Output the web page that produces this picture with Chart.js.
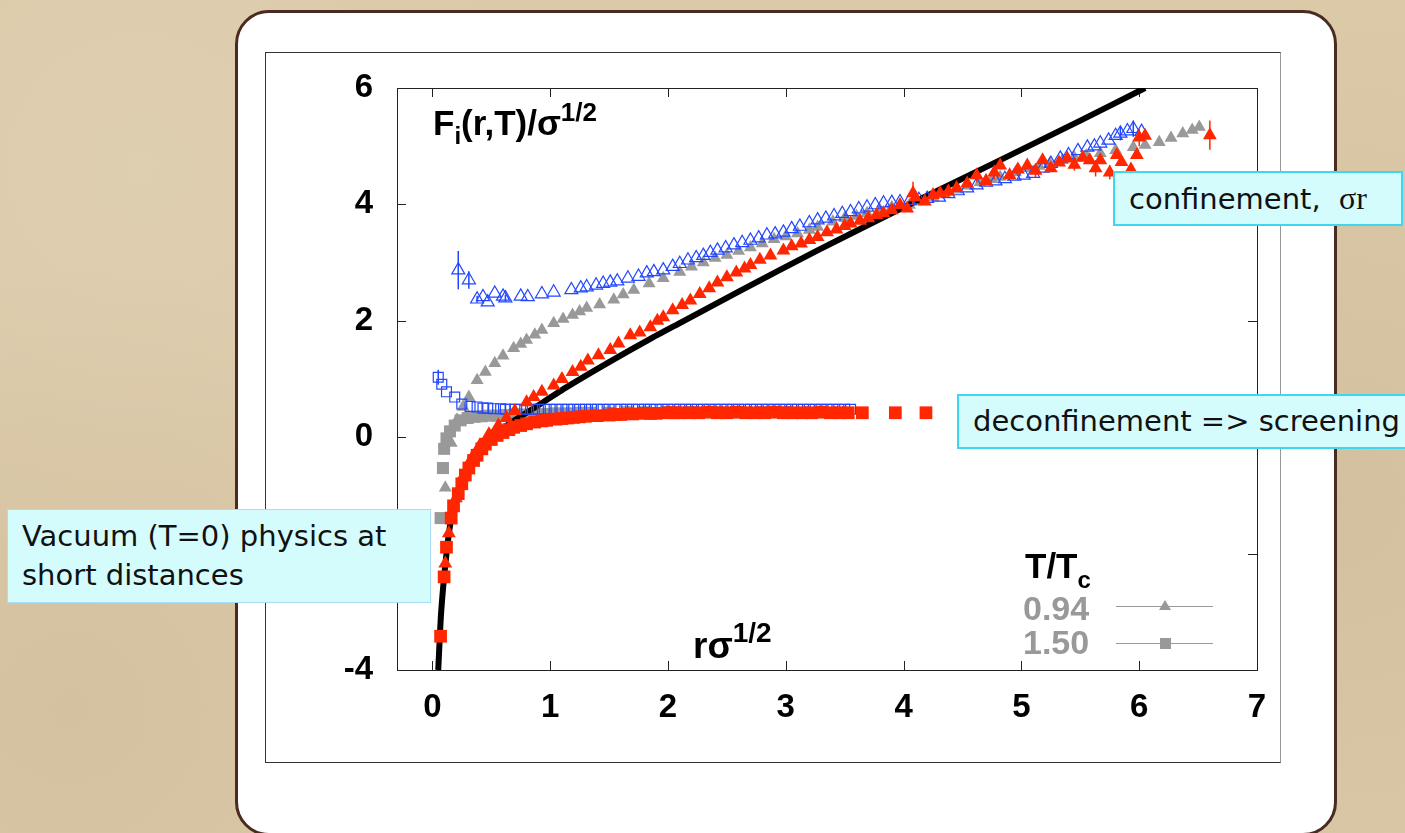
<!DOCTYPE html>
<html>
<head>
<meta charset="utf-8">
<script src="https://cdn.jsdelivr.net/npm/chart.js"></script>
<style>
  html, body { margin: 0; padding: 0; width: 1405px; height: 833px; overflow: hidden; }
  body {
    position: relative;
    background:
      radial-gradient(circle at 10% 20%, rgba(255,255,255,0.10), transparent 30%),
      radial-gradient(circle at 95% 60%, rgba(120,90,50,0.08), transparent 35%),
      radial-gradient(circle at 5% 85%, rgba(120,90,50,0.07), transparent 30%),
      #dbc9a8;
    font-family: "Liberation Sans", Arial, sans-serif;
  }
  #panel {
    position: absolute; left: 235px; top: 10px; width: 1102px; height: 826px;
    box-sizing: border-box; background: #fff; border: 3px solid #4a2b22; border-radius: 34px;
  }
  #frame {
    position: absolute; left: 265px; top: 52px; width: 1016px; height: 711px;
    box-sizing: border-box; border: 1px solid #333; border-right-color: #999;
  }
  #chart { position: absolute; left: 0; top: 0; }
  .lbl { position: absolute; font-weight: bold; color: #000; white-space: nowrap; line-height: 1; }
  .lbl .sup { position: relative; }
  .gray { color: #999; }
  .note {
    position: absolute; box-sizing: border-box; background: #d5fcfd;
    border: 2px solid #3fd6ee; font-family: "DejaVu Sans", sans-serif;
    font-size: 29px; line-height: 39px; color: #111; white-space: nowrap;
  }
  .serif { font-family: "Liberation Serif", "DejaVu Serif", serif; font-size: 32px; }
</style>
</head>
<body>
<div id="panel"></div>
<div id="frame"></div>
<canvas id="chart" width="1405" height="833"></canvas>

<div class="lbl" style="left:433px; top:105px; font-size:35px;">F<span style="font-size:24px; position:relative; top:9px;">i</span>(r,T)/σ<span class="sup" style="font-size:26px; top:-14px;">1/2</span></div>
<div class="lbl" style="left:693px; top:627px; font-size:37px;">rσ<span class="sup" style="font-size:28px; top:-16px;">1/2</span></div>
<div class="lbl" style="left:1025px; top:548px; font-size:35px;">T/T<span style="font-size:24px; position:relative; top:10px;">c</span></div>
<div class="lbl gray" style="left:1023px; top:591px; font-size:34px;">0.94</div>
<div class="lbl gray" style="left:1023px; top:625px; font-size:34px;">1.50</div>

<div class="note" style="left:1113px; top:171px; width:290px; height:55px; padding:6px 0 0 14px;">confinement,&nbsp; <span class="serif">σr</span></div>
<div class="note" style="left:957px; top:394px; width:470px; height:55px; padding:6px 0 0 14px;">deconfinement =&gt; screening</div>
<div class="note" style="left:7px; top:509px; width:424px; height:94px; padding:7px 0 0 14px; border:1px solid #a9dcf5;">Vacuum (T=0) physics at<br>short distances</div>

<script>
// axis ticks
const xTicks = [0, 1, 2, 3, 4, 5, 6, 7];
const yTicks = [-4, -2, 0, 2, 4, 6];

// T = 0 potential (thick black curve)
const vacX = [0.05, 0.075, 0.12, 0.16, 0.21, 0.26, 0.31, 0.38, 0.45, 0.55, 0.66, 0.8, 0.9, 1.14, 1.5, 1.85, 2.1, 2.6, 3.27, 4.0, 4.82, 5.5, 6.05];
const vacY = [-4.0, -3.0, -2.0, -1.4, -1.0, -0.72, -0.5, -0.27, -0.08, 0.08, 0.24, 0.42, 0.55, 0.86, 1.29, 1.69, 1.96, 2.5, 3.21, 3.95, 4.76, 5.44, 6.0];

// T/Tc = 0.94, grey filled triangles
const g094X = [0.11, 0.16, 0.21, 0.26, 0.31, 0.38, 0.45, 0.53, 0.6, 0.69, 0.75, 0.8, 0.87, 0.93, 1.03, 1.11, 1.19, 1.25, 1.31, 1.42, 1.54, 1.62, 1.71, 1.84, 1.96, 2.1, 2.2, 2.3, 2.4, 2.5, 2.6, 2.7, 2.8, 2.9, 3.0, 3.1, 3.2, 3.27, 3.4, 3.5, 3.6, 3.69, 3.8, 3.9, 4.05, 4.15, 4.25, 4.35, 4.45, 4.55, 4.65, 4.75, 4.82, 4.95, 5.05, 5.15, 5.24, 5.35, 5.45, 5.55, 5.67, 5.8, 5.95, 6.05, 6.17, 6.27, 6.37, 6.45, 6.51];
const g094Y = [-0.87, -0.1, 0.3, 0.52, 0.69, 0.98, 1.12, 1.27, 1.4, 1.53, 1.6, 1.67, 1.76, 1.84, 1.96, 2.03, 2.1, 2.16, 2.22, 2.28, 2.36, 2.45, 2.53, 2.64, 2.73, 2.84, 2.93, 3.0, 3.08, 3.13, 3.2, 3.26, 3.33, 3.4, 3.45, 3.5, 3.56, 3.61, 3.7, 3.76, 3.8, 3.85, 3.9, 3.95, 3.99, 4.05, 4.12, 4.18, 4.25, 4.32, 4.38, 4.43, 4.47, 4.55, 4.62, 4.66, 4.7, 4.76, 4.8, 4.84, 4.88, 4.93, 4.98, 5.02, 5.07, 5.14, 5.22, 5.28, 5.33];

// T/Tc = 1.50, grey filled squares
const g150X = [0.07, 0.09, 0.1, 0.12, 0.15, 0.19, 0.24, 0.3, 0.36, 0.42, 0.48, 0.55, 0.62, 0.7, 0.78, 0.86, 0.95, 1.05, 1.15, 1.25, 1.35, 1.5, 1.65, 1.8, 2.0, 2.2, 2.4, 2.6, 2.8, 3.0];
const g150Y = [-1.39, -0.53, -0.2, -0.02, 0.1, 0.2, 0.29, 0.33, 0.35, 0.36, 0.37, 0.37, 0.38, 0.39, 0.39, 0.4, 0.4, 0.41, 0.41, 0.42, 0.42, 0.42, 0.43, 0.43, 0.43, 0.43, 0.43, 0.43, 0.43, 0.43];

// blue open triangles (below Tc)
const blueTriX = [0.22, 0.31, 0.38, 0.43, 0.47, 0.53, 0.6, 0.62, 0.75, 0.81, 0.93, 1.03, 1.18, 1.26, 1.31, 1.39, 1.45, 1.51, 1.57, 1.66, 1.75, 1.82, 1.88, 1.96, 2.04, 2.1, 2.17, 2.24, 2.3, 2.36, 2.42, 2.49, 2.56, 2.63, 2.7, 2.77, 2.84, 2.91, 2.98, 3.05, 3.12, 3.2, 3.27, 3.34, 3.41, 3.48, 3.55, 3.62, 3.69, 3.76, 3.83, 3.9, 3.97, 4.05, 4.13, 4.2, 4.3, 4.38, 4.46, 4.54, 4.62, 4.7, 4.78, 4.86, 4.94, 5.02, 5.1, 5.18, 5.25, 5.33, 5.4, 5.48, 5.56, 5.62, 5.67, 5.74, 5.8, 5.84, 5.9, 5.95, 6.02];
const blueTriY = [2.87, 2.7, 2.37, 2.41, 2.32, 2.47, 2.42, 2.39, 2.42, 2.41, 2.46, 2.49, 2.53, 2.56, 2.58, 2.61, 2.64, 2.66, 2.68, 2.73, 2.76, 2.82, 2.84, 2.87, 2.93, 2.98, 3.04, 3.08, 3.12, 3.17, 3.21, 3.25, 3.3, 3.34, 3.38, 3.42, 3.47, 3.49, 3.52, 3.58, 3.62, 3.68, 3.73, 3.76, 3.8, 3.84, 3.87, 3.92, 3.95, 3.99, 4.02, 4.03, 4.04, 4.06, 4.08, 4.1, 4.12, 4.18, 4.23, 4.28, 4.33, 4.38, 4.4, 4.44, 4.48, 4.5, 4.53, 4.62, 4.7, 4.79, 4.85, 4.92, 4.98, 5.0, 5.05, 5.1, 5.18, 5.22, 5.26, 5.3, 5.25];
const blueTriErrX = [0.22, 0.31, 0.38, 0.62, 5.84, 5.95];
const blueTriErr = [0.33, 0.15, 0.06, 0.06, 0.12, 0.14];

// blue open squares (above Tc)
const blueSqX = [0.05, 0.08, 0.12, 0.19, 0.25, 0.32, 0.38, 0.43, 0.47, 0.52, 0.58, 0.62, 0.66, 0.7, 0.75, 0.8, 0.85, 0.9, 0.95, 1.0, 1.05, 1.1, 1.15, 1.2, 1.25, 1.3, 1.35, 1.4, 1.45, 1.5, 1.55, 1.6, 1.65, 1.7, 1.75, 1.8, 1.85, 1.9, 1.95, 2.0, 2.05, 2.1, 2.15, 2.2, 2.25, 2.3, 2.35, 2.4, 2.45, 2.5, 2.55, 2.6, 2.65, 2.7, 2.75, 2.8, 2.85, 2.9, 2.95, 3.0, 3.05, 3.1, 3.15, 3.2, 3.25, 3.3, 3.35, 3.4, 3.45, 3.5, 3.55];
const blueSqY = [1.03, 0.91, 0.78, 0.69, 0.57, 0.53, 0.52, 0.5, 0.5, 0.49, 0.49, 0.48, 0.48, 0.48, 0.48, 0.48, 0.48, 0.48, 0.48, 0.48, 0.48, 0.48, 0.48, 0.48, 0.48, 0.48, 0.48, 0.48, 0.48, 0.48, 0.48, 0.48, 0.48, 0.48, 0.48, 0.48, 0.48, 0.48, 0.48, 0.48, 0.48, 0.48, 0.48, 0.48, 0.48, 0.48, 0.48, 0.48, 0.48, 0.48, 0.48, 0.48, 0.48, 0.48, 0.48, 0.48, 0.48, 0.48, 0.48, 0.48, 0.48, 0.48, 0.48, 0.48, 0.48, 0.48, 0.48, 0.48, 0.48, 0.48, 0.48];
const blueSqErrX = [0.05];
const blueSqErr = [0.13];

// red filled triangles (below Tc)
const redTriX = [0.11, 0.14, 0.2, 0.26, 0.33, 0.4, 0.48, 0.56, 0.63, 0.7, 0.8, 0.86, 0.93, 1.03, 1.1, 1.19, 1.26, 1.32, 1.41, 1.51, 1.58, 1.68, 1.76, 1.85, 1.91, 1.96, 2.04, 2.12, 2.19, 2.27, 2.35, 2.42, 2.5, 2.58, 2.65, 2.7, 2.78, 2.87, 2.98, 3.05, 3.13, 3.2, 3.27, 3.35, 3.43, 3.5, 3.55, 3.63, 3.7, 3.77, 3.83, 3.9, 3.97, 4.03, 4.08, 4.1, 4.18, 4.25, 4.31, 4.38, 4.45, 4.54, 4.62, 4.7, 4.77, 4.82, 4.9, 4.97, 5.05, 5.12, 5.18, 5.25, 5.32, 5.39, 5.45, 5.52, 5.58, 5.63, 5.67, 5.75, 5.81, 5.85, 5.93, 5.98, 6.0, 6.05, 6.6];
const redTriY = [-2.17, -1.65, -1.05, -0.68, -0.38, -0.15, 0.05, 0.2, 0.33, 0.45, 0.6, 0.69, 0.78, 0.89, 1.0, 1.12, 1.21, 1.32, 1.41, 1.5, 1.61, 1.75, 1.8, 1.89, 2.0, 2.06, 2.18, 2.27, 2.35, 2.46, 2.56, 2.66, 2.75, 2.83, 2.9, 2.96, 3.05, 3.12, 3.21, 3.28, 3.33, 3.39, 3.44, 3.52, 3.57, 3.63, 3.67, 3.72, 3.76, 3.82, 3.85, 3.9, 3.99, 3.93, 4.19, 4.12, 4.05, 4.16, 4.19, 4.22, 4.28, 4.36, 4.5, 4.4, 4.55, 4.67, 4.5, 4.6, 4.67, 4.58, 4.76, 4.62, 4.72, 4.79, 4.68, 4.8, 4.76, 4.62, 4.76, 4.55, 4.85, 4.73, 4.6, 4.85, 5.15, 5.18, 5.19];
const redTriErrX = [4.08, 4.38, 4.62, 4.77, 4.97, 5.12, 5.45, 5.63, 5.75, 5.93, 6.0, 6.6];
const redTriErr = [0.2, 0.1, 0.12, 0.12, 0.1, 0.12, 0.1, 0.14, 0.12, 0.1, 0.15, 0.25];

// red filled squares (above Tc)
const redSqX = [0.07, 0.1, 0.12, 0.16, 0.18, 0.22, 0.25, 0.28, 0.31, 0.35, 0.38, 0.42, 0.45, 0.5, 0.55, 0.6, 0.65, 0.69, 0.75, 0.8, 0.87, 0.93, 0.97, 1.05, 1.1, 1.15, 1.2, 1.25, 1.3, 1.4, 1.5, 1.55, 1.6, 1.7, 1.8, 1.85, 1.9, 2.0, 2.05, 2.1, 2.18, 2.26, 2.34, 2.42, 2.5, 2.58, 2.66, 2.74, 2.82, 2.9, 2.98, 3.06, 3.14, 3.22, 3.3, 3.38, 3.46, 3.53, 3.65, 3.93, 4.19];
const redSqY = [-3.42, -2.4, -1.89, -1.39, -1.18, -0.97, -0.8, -0.65, -0.53, -0.4, -0.31, -0.2, -0.12, -0.04, 0.03, 0.08, 0.13, 0.17, 0.2, 0.23, 0.26, 0.28, 0.29, 0.31, 0.32, 0.33, 0.34, 0.35, 0.36, 0.37, 0.38, 0.39, 0.39, 0.4, 0.41, 0.41, 0.41, 0.42, 0.42, 0.42, 0.42, 0.42, 0.43, 0.42, 0.42, 0.43, 0.42, 0.42, 0.42, 0.43, 0.42, 0.42, 0.42, 0.42, 0.43, 0.42, 0.42, 0.42, 0.42, 0.42, 0.42];

const RED = '#ff2600', BLUE = '#2046ff', GREY = '#999999';

const pts = (xs, ys) => xs.map((x, i) => ({ x: x, y: ys[i] }));

// vertical error bars drawn after each dataset
const errorBars = {
  id: 'errorBars',
  afterDatasetDraw(chart, args) {
    const ds = chart.data.datasets[args.index];
    if (!ds.errX) return;
    const { ctx } = chart;
    const y = chart.scales.y;
    ctx.save();
    ctx.strokeStyle = ds.borderColor;
    ctx.lineWidth = 1.5;
    args.meta.data.forEach((pt, i) => {
      const k = ds.errX.indexOf(ds.data[i].x);
      if (k < 0) return;
      const v = ds.data[i].y, e = ds.errV[k];
      ctx.beginPath();
      ctx.moveTo(pt.x, y.getPixelForValue(v - e));
      ctx.lineTo(pt.x, y.getPixelForValue(v + e));
      ctx.stroke();
    });
    ctx.restore();
  }
};

// box around the plot with inward tick marks on all four sides
const frameTicks = {
  id: 'frameTicks',
  beforeDatasetsDraw(chart) {
    const { ctx, chartArea: a, scales: { x, y } } = chart;
    ctx.save();
    ctx.strokeStyle = '#222';
    ctx.lineWidth = 1;
    ctx.strokeRect(Math.round(a.left) + 0.5, Math.round(a.top) + 0.5, Math.round(a.right - a.left), Math.round(a.bottom - a.top));
    ctx.beginPath();
    xTicks.forEach(v => {
      const px = Math.round(x.getPixelForValue(v)) + 0.5;
      ctx.moveTo(px, a.bottom); ctx.lineTo(px, a.bottom - 9);
      ctx.moveTo(px, a.top); ctx.lineTo(px, a.top + 9);
    });
    yTicks.forEach(v => {
      const py = Math.round(y.getPixelForValue(v)) + 0.5;
      ctx.moveTo(a.left, py); ctx.lineTo(a.left + 9, py);
      ctx.moveTo(a.right, py); ctx.lineTo(a.right - 9, py);
    });
    ctx.stroke();
    ctx.restore();
  }
};

// key samples next to the 0.94 / 1.50 labels
const keySamples = {
  id: 'keySamples',
  afterDraw(chart) {
    const { ctx } = chart;
    ctx.save();
    ctx.strokeStyle = GREY;
    ctx.fillStyle = GREY;
    ctx.lineWidth = 1;
    [606.5, 643.5].forEach(yy => {
      ctx.beginPath(); ctx.moveTo(1116, yy); ctx.lineTo(1213, yy); ctx.stroke();
    });
    ctx.beginPath();
    ctx.moveTo(1165, 600); ctx.lineTo(1171, 610); ctx.lineTo(1159, 610); ctx.closePath(); ctx.fill();
    ctx.fillRect(1160, 638, 11, 11);
    ctx.restore();
  }
};

const tickFont = { family: "'Liberation Sans Narrow', 'Liberation Sans', Arial", size: 33, weight: 'bold' };

new Chart(document.getElementById('chart'), {
  type: 'scatter',
  data: {
    datasets: [
      { label: 'red triangles', data: pts(redTriX, redTriY), pointStyle: 'triangle', pointRadius: 8,
        backgroundColor: RED, borderColor: RED, borderWidth: 0, errX: redTriErrX, errV: redTriErr },
      { label: 'red squares', data: pts(redSqX, redSqY), pointStyle: 'rect', pointRadius: 9,
        backgroundColor: RED, borderColor: RED, borderWidth: 0 },
      { label: 'blue triangles', data: pts(blueTriX, blueTriY), pointStyle: 'triangle', pointRadius: 7.5,
        backgroundColor: 'rgba(0,0,0,0)', borderColor: BLUE, borderWidth: 1.2, errX: blueTriErrX, errV: blueTriErr },
      { label: 'blue squares', data: pts(blueSqX, blueSqY), pointStyle: 'rect', pointRadius: 7,
        backgroundColor: 'rgba(0,0,0,0)', borderColor: BLUE, borderWidth: 1.2, errX: blueSqErrX, errV: blueSqErr },
      { label: 'T=0', data: pts(vacX, vacY), showLine: true, pointRadius: 0, borderColor: '#000',
        borderWidth: 6, tension: 0.2 },
      { label: '1.50', data: pts(g150X, g150Y), pointStyle: 'rect', pointRadius: 8.5,
        backgroundColor: GREY, borderColor: GREY, borderWidth: 0 },
      { label: '0.94', data: pts(g094X, g094Y), pointStyle: 'triangle', pointRadius: 7.5,
        backgroundColor: GREY, borderColor: GREY, borderWidth: 0 }
    ]
  },
  options: {
    responsive: false,
    animation: false,
    layout: { padding: { left: 337, right: 148, top: 88, bottom: 93 } },
    plugins: { legend: { display: false }, tooltip: { enabled: false } },
    scales: {
      x: {
        type: 'linear', min: -0.3, max: 7,
        afterBuildTicks: s => { s.ticks = xTicks.map(v => ({ value: v })); },
        afterFit: s => { s.height = 70; },
        grid: { display: false, drawTicks: false },
        border: { display: false },
        ticks: { font: tickFont, color: '#000', padding: 18 }
      },
      y: {
        type: 'linear', min: -4, max: 6,
        afterBuildTicks: s => { s.ticks = yTicks.map(v => ({ value: v })); },
        afterFit: s => { s.width = 60; },
        grid: { display: false, drawTicks: false },
        border: { display: false },
        ticks: { font: tickFont, color: '#000', padding: 24 }
      }
    }
  },
  plugins: [frameTicks, errorBars, keySamples]
});
</script>
</body>
</html>
